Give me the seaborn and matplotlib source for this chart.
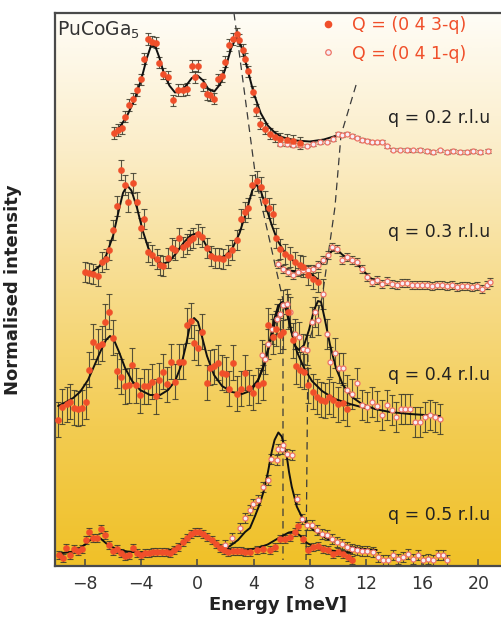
import numpy as np
import pandas as pd
import matplotlib
matplotlib.use("Agg")
import matplotlib.pyplot as plt
import seaborn as sns
from matplotlib.colors import LinearSegmentedColormap
from matplotlib.lines import Line2D

# ---------------- measured spectra (energy in meV, stacked normalised intensity) ----------------
# q = 0.2 r.l.u
q02_red_E = [-5.94, -5.63, -5.39, -5.15, -4.85, -4.60, -4.32, -4.04, -3.80, -3.49,
             -3.25, -2.95, -2.71, -2.43, -2.07, -1.76, -1.36, -1.05, -0.72, -0.41,
             -0.17, 0.06, 0.38, 0.66, 0.90, 1.18, 1.49, 1.73, 1.96, 2.27,
             2.51, 2.80, 2.98, 3.22, 3.39, 3.62, 3.94, 4.17, 4.46, 4.81,
             5.17, 5.52, 5.88, 6.36, 6.80, 7.30]
q02_red_I = [8.65, 8.71, 8.76, 8.98, 9.21, 9.34, 9.51, 9.72, 10.14, 10.54,
             10.48, 10.46, 10.06, 9.84, 9.78, 9.30, 9.51, 9.52, 9.54, 9.99,
             9.78, 9.99, 9.61, 9.43, 9.41, 9.34, 9.72, 9.79, 10.08, 10.41,
             10.54, 10.64, 10.52, 10.31, 10.14, 9.88, 9.48, 9.12, 8.84, 8.74,
             8.64, 8.58, 8.54, 8.52, 8.49, 8.45]
q02_red_err = 0.12
q02_open_E = [5.88, 6.36, 6.83, 7.30, 7.78, 8.25, 8.73, 9.20, 9.67, 10.03,
              10.27, 10.63, 10.98, 11.34, 11.69, 12.05, 12.41, 12.76, 13.12, 13.47,
              13.94, 14.42, 14.90, 15.37, 15.84, 16.32, 16.79, 17.27, 17.74, 18.22,
              18.69, 19.17, 19.64, 20.11, 20.70]
q02_open_I = [8.44, 8.43, 8.42, 8.41, 8.40, 8.43, 8.46, 8.48, 8.54, 8.64,
              8.61, 8.64, 8.59, 8.56, 8.52, 8.50, 8.46, 8.46, 8.48, 8.38,
              8.32, 8.32, 8.31, 8.30, 8.31, 8.29, 8.28, 8.30, 8.27, 8.29,
              8.28, 8.27, 8.29, 8.28, 8.29]
q02_open_err = 0.04

# q = 0.3 r.l.u
q03_red_E = [-8.00, -7.72, -7.41, -7.10, -6.81, -6.53, -6.27, -5.99, -5.74, -5.46,
             -5.15, -4.92, -4.61, -4.32, -4.04, -3.78, -3.49, -3.21, -2.90, -2.66,
             -2.43, -2.11, -1.83, -1.59, -1.29, -1.00, -0.76, -0.53, -0.29, 0.02,
             0.31, 0.66, 0.97, 1.25, 1.54, 1.84, 2.16, 2.48, 2.84, 3.08,
             3.39, 3.62, 3.86, 4.22, 4.53, 4.81, 5.10, 5.36, 5.59, 5.88,
             6.23, 6.59, 6.95, 7.30, 7.54, 7.89, 8.25, 8.60]
q03_red_I = [5.88, 5.86, 5.84, 5.79, 6.08, 6.14, 6.32, 6.72, 7.20, 7.91,
             7.61, 7.28, 7.66, 7.28, 6.76, 6.93, 6.28, 6.21, 6.14, 6.01,
             5.99, 6.16, 6.36, 6.32, 6.56, 6.38, 6.44, 6.51, 6.56, 6.64,
             6.58, 6.36, 6.19, 6.16, 6.16, 6.14, 6.21, 6.32, 6.51, 6.94,
             7.08, 7.16, 7.62, 7.70, 7.58, 7.29, 7.16, 7.04, 6.56, 6.34,
             6.24, 6.18, 6.08, 6.01, 5.98, 5.81, 5.74, 5.68]
q03_red_err = 0.2
q03_open_E = [5.76, 6.11, 6.47, 6.83, 7.18, 7.54, 7.89, 8.25, 8.60, 8.96,
              9.32, 9.56, 9.91, 10.27, 10.63, 10.98, 11.34, 11.69, 12.05, 12.41,
              12.76, 13.12, 13.47, 13.83, 14.19, 14.54, 14.90, 15.25, 15.61, 15.96,
              16.32, 16.68, 17.03, 17.39, 17.74, 18.10, 18.46, 18.81, 19.17, 19.52,
              19.88, 20.24, 20.59, 20.83]
q03_open_I = [6.04, 5.94, 5.88, 5.81, 5.88, 5.91, 5.92, 5.94, 6.01, 6.11,
              6.21, 6.38, 6.34, 6.11, 6.18, 6.12, 6.08, 5.94, 5.78, 5.68,
              5.72, 5.64, 5.70, 5.64, 5.61, 5.66, 5.66, 5.61, 5.61, 5.62,
              5.61, 5.60, 5.62, 5.61, 5.60, 5.61, 5.58, 5.60, 5.60, 5.58,
              5.59, 5.54, 5.61, 5.68]
q03_open_err = 0.08

# q = 0.4 r.l.u
q04_red_E = [-9.90, -9.62, -9.30, -9.07, -8.76, -8.48, -8.23, -7.95, -7.69, -7.41,
             -7.10, -6.81, -6.58, -6.29, -6.03, -5.74, -5.44, -5.15, -4.87, -4.63,
             -4.37, -4.06, -3.78, -3.49, -3.25, -2.97, -2.71, -2.43, -2.14, -1.88,
             -1.59, -1.31, -1.02, -0.76, -0.48, -0.22, 0.06, 0.35, 0.66, 0.90,
             1.20, 1.49, 1.73, 2.01, 2.25, 2.56, 2.84, 3.10, 3.39, 3.67,
             3.98, 4.33, 4.69, 5.05, 5.36, 5.59, 5.88, 6.11, 6.47, 6.78,
             7.02, 7.30, 7.59, 7.89, 8.21, 8.49, 8.78, 9.08, 9.39, 9.67,
             10.03, 10.34, 10.63]
q04_red_I = [2.92, 3.18, 3.23, 3.28, 3.16, 3.14, 3.16, 3.28, 3.92, 4.48,
             4.39, 4.44, 4.88, 5.08, 4.56, 3.90, 3.78, 3.59, 3.61, 4.01,
             3.61, 3.41, 3.59, 3.59, 3.68, 3.39, 3.71, 3.88, 3.63, 4.08,
             3.68, 4.08, 4.08, 4.81, 4.90, 4.46, 4.36, 4.68, 3.66, 3.96,
             3.99, 4.06, 3.86, 3.83, 3.54, 4.06, 3.44, 3.54, 3.86, 3.56,
             3.46, 3.61, 3.66, 4.81, 4.58, 4.74, 4.61, 4.68, 5.08, 4.51,
             3.99, 3.92, 3.88, 3.61, 3.48, 3.38, 3.32, 3.30, 3.38, 3.32,
             3.23, 3.26, 3.14]
q04_red_err = 0.35
q04_open_E = [4.58, 4.81, 5.05, 5.29, 5.64, 5.88, 6.11, 6.36, 6.59, 6.95,
              7.25, 7.54, 7.82, 8.14, 8.37, 8.60, 8.96, 9.20, 9.44, 9.79,
              10.10, 10.34, 10.63, 10.98, 11.38, 11.69, 12.05, 12.41, 12.76, 13.12,
              13.47, 13.83, 14.14, 14.47, 14.78, 15.13, 15.49, 15.84, 16.20, 16.56,
              16.91, 17.27]
q04_open_I = [4.21, 4.14, 4.44, 4.74, 4.94, 5.04, 5.21, 5.24, 5.08, 4.64,
              4.58, 4.34, 4.31, 4.88, 5.08, 4.91, 5.44, 4.64, 4.08, 4.26,
              3.96, 3.96, 3.51, 3.44, 3.66, 3.21, 3.18, 3.28, 3.19, 3.01,
              3.21, 3.11, 2.98, 3.14, 3.14, 3.14, 2.88, 2.88, 2.98, 3.01,
              2.98, 2.94]
q04_open_err = 0.3

# q = 0.5 r.l.u
q05_red_E = [-9.83, -9.59, -9.35, -9.07, -8.78, -8.48, -8.23, -7.93, -7.69, -7.41,
             -7.12, -6.86, -6.58, -6.27, -5.99, -5.70, -5.46, -5.15, -4.85, -4.61,
             -4.32, -4.04, -3.73, -3.42, -3.14, -2.85, -2.54, -2.23, -1.95, -1.67,
             -1.36, -1.05, -0.76, -0.48, -0.17, 0.14, 0.42, 0.70, 1.02, 1.32,
             1.61, 1.89, 2.20, 2.51, 2.80, 3.08, 3.39, 3.74, 4.22, 4.69,
             5.17, 5.52, 5.88, 6.23, 6.59, 6.95, 7.18, 7.54, 7.89, 8.25,
             8.60, 8.96, 9.32, 9.67, 10.03, 10.38, 10.74, 10.98]
q05_red_I = [0.21, 0.16, 0.36, 0.21, 0.34, 0.30, 0.34, 0.52, 0.68, 0.56,
             0.56, 0.74, 0.61, 0.41, 0.30, 0.34, 0.26, 0.19, 0.21, 0.36,
             0.26, 0.21, 0.26, 0.26, 0.28, 0.28, 0.28, 0.28, 0.26, 0.31,
             0.38, 0.48, 0.56, 0.63, 0.68, 0.68, 0.63, 0.58, 0.51, 0.43,
             0.36, 0.32, 0.28, 0.30, 0.30, 0.30, 0.28, 0.28, 0.31, 0.34,
             0.31, 0.38, 0.54, 0.54, 0.58, 0.68, 0.79, 0.54, 0.31, 0.38,
             0.39, 0.34, 0.31, 0.24, 0.28, 0.24, 0.18, 0.12]
q05_red_err = 0.08
q05_open_E = [1.96, 2.46, 3.03, 3.39, 3.74, 3.98, 4.33, 4.69, 5.05, 5.22,
              5.64, 5.76, 6.00, 6.11, 6.36, 6.71, 7.07, 7.42, 7.78, 8.14,
              8.49, 8.85, 9.20, 9.56, 9.91, 10.27, 10.63, 10.98, 11.34, 11.69,
              12.05, 12.52, 12.88, 13.23, 13.59, 13.94, 14.30, 14.65, 15.01, 15.37,
              15.72, 16.08, 16.43, 16.79, 17.15, 17.50, 17.79]
q05_open_I = [0.41, 0.55, 0.75, 0.95, 1.11, 1.24, 1.31, 1.58, 1.72, 2.14,
              2.11, 2.34, 2.34, 2.41, 2.24, 2.21, 1.34, 0.94, 0.81, 0.81,
              0.71, 0.64, 0.61, 0.54, 0.48, 0.44, 0.38, 0.34, 0.31, 0.30,
              0.30, 0.28, 0.18, 0.11, 0.12, 0.21, 0.14, 0.18, 0.24, 0.14,
              0.21, 0.11, 0.14, 0.11, 0.21, 0.21, 0.11]
q05_open_err = 0.1

# ---------------- fitted line shapes ----------------
fit02_E = [-5.9, -5.5, -5.0, -4.5, -4.0, -3.6, -3.3, -3.0, -2.7, -2.4,
           -2.0, -1.6, -1.2, -0.8, -0.4, 0.0, 0.4, 0.8, 1.2, 1.6,
           2.0, 2.4, 2.75, 3.1, 3.5, 4.0, 4.5, 5.0, 5.5, 6.0,
           7.0, 8.0, 9.0, 9.7, 10.2, 10.6, 11.2, 12.0, 13.3]
fit02_I = [8.62, 8.78, 9.0, 9.3, 9.72, 10.15, 10.4, 10.38, 10.15, 9.85,
           9.6, 9.46, 9.48, 9.6, 9.75, 9.8, 9.7, 9.52, 9.48, 9.62,
           9.95, 10.35, 10.55, 10.4, 10.0, 9.45, 9.05, 8.8, 8.66, 8.57,
           8.5, 8.48, 8.52, 8.58, 8.63, 8.62, 8.57, 8.5, 8.45]

fit03_red_E = [-8.0, -7.5, -7.0, -6.5, -6.0, -5.6, -5.3, -5.0, -4.7, -4.3,
               -3.9, -3.5, -3.0, -2.5, -2.0, -1.5, -1.0, -0.5, 0.0, 0.4,
               0.8, 1.2, 1.6, 2.0, 2.5, 3.0, 3.5, 3.9, 4.2, 4.5,
               4.9, 5.3, 5.7, 6.2, 6.8, 7.5, 8.0, 8.6]
fit03_red_I = [5.82, 5.87, 5.98, 6.2, 6.6, 7.1, 7.45, 7.6, 7.5, 7.15,
               6.7, 6.35, 6.12, 6.03, 6.08, 6.25, 6.45, 6.6, 6.65, 6.52,
               6.3, 6.17, 6.15, 6.2, 6.35, 6.65, 7.1, 7.5, 7.62, 7.5,
               7.15, 6.8, 6.5, 6.27, 6.1, 5.95, 5.85, 5.72]
fit03_open_E = [5.8, 6.5, 7.2, 8.0, 8.6, 9.1, 9.6, 9.9, 10.3, 10.8, 11.3, 11.8, 12.3, 13.0]
fit03_open_I = [6.0, 5.9, 5.88, 5.92, 6.0, 6.12, 6.3, 6.33, 6.22, 6.12, 6.05, 5.9, 5.75, 5.65]

fit04_red_E = [-9.92, -9.35, -8.85, -8.36, -7.79, -7.29, -6.86, -6.51, -6.22, -5.94,
               -5.58, -5.15, -4.65, -4.08, -3.37, -2.66, -2.09, -1.59, -1.17, -0.81,
               -0.53, -0.24, 0.04, 0.33, 0.68, 1.18, 1.75, 2.46, 3.17, 3.74,
               4.24, 4.67, 5.10, 5.45, 5.74, 6.02, 6.31, 6.66, 7.09, 7.59,
               8.15, 8.87, 9.79, 10.86, 11.92]
fit04_red_I = [3.19, 3.27, 3.35, 3.47, 3.71, 4.03, 4.31, 4.51, 4.59, 4.51,
               4.27, 3.95, 3.69, 3.51, 3.41, 3.41, 3.51, 3.69, 3.99, 4.41,
               4.81, 4.95, 4.87, 4.57, 4.19, 3.81, 3.59, 3.47, 3.43, 3.49,
               3.65, 3.95, 4.41, 4.91, 5.19, 5.27, 5.11, 4.71, 4.27, 3.95,
               3.69, 3.49, 3.33, 3.23, 3.15]
fit04_open_E = [3.74, 4.31, 4.81, 5.17, 5.52, 5.81, 6.09, 6.38, 6.66, 6.95,
                7.23, 7.59, 7.94, 8.30, 8.58, 8.80, 9.08, 9.44, 9.86, 10.36,
                11.00, 11.71, 12.63, 13.70, 15.13, 17.27]
fit04_open_I = [3.51, 3.71, 4.07, 4.45, 4.87, 5.19, 5.27, 5.15, 4.71, 4.39,
                4.31, 4.41, 4.71, 5.11, 5.29, 5.27, 4.91, 4.41, 3.95, 3.61,
                3.37, 3.23, 3.13, 3.07, 3.03, 2.99]

fit05_red_E = [-9.9, -9.0, -8.5, -8.0, -7.5, -7.2, -6.9, -6.4, -5.8, -5.0,
               -4.0, -3.0, -2.0, -1.4, -0.9, -0.4, 0.0, 0.4, 0.9, 1.4,
               2.0, 2.7, 3.5, 4.3, 5.0, 5.6, 6.1, 6.5, 6.9, 7.3,
               7.8, 8.5, 9.5, 10.5, 11.0]
fit05_red_I = [0.24, 0.27, 0.32, 0.42, 0.54, 0.57, 0.54, 0.42, 0.33, 0.28,
               0.26, 0.27, 0.30, 0.38, 0.50, 0.62, 0.66, 0.62, 0.52, 0.42,
               0.34, 0.30, 0.31, 0.35, 0.42, 0.52, 0.60, 0.66, 0.68, 0.60,
               0.45, 0.35, 0.30, 0.27, 0.26]
fit05_open_E = [1.75, 2.32, 2.89, 3.39, 3.74, 4.10, 4.46, 4.74, 5.02, 5.29,
                5.49, 5.76, 6.00, 6.16, 6.36, 6.52, 6.71, 7.07, 7.54, 8.25,
                9.20, 10.38, 11.57, 12.76]
fit05_open_I = [0.31, 0.39, 0.51, 0.67, 0.75, 0.99, 1.25, 1.51, 1.87, 2.28,
                2.51, 2.66, 2.58, 2.41, 2.18, 1.87, 1.58, 1.18, 0.91, 0.71,
                0.54, 0.41, 0.34, 0.31]

# dispersion guides through the peak positions
guide_a_E = [2.60, 4.17, 6.09, 6.09]
guide_a_I = [11.05, 7.71, 5.31, 0.11]
guide_b_E = [11.29, 10.22, 9.79, 8.87, 7.87, 7.73]
guide_b_I = [9.61, 8.61, 7.17, 5.35, 4.41, 0.11]

q_labels = ["q = 0.2 r.l.u", "q = 0.3 r.l.u", "q = 0.4 r.l.u", "q = 0.5 r.l.u"]
q_label_I = [8.95, 6.67, 3.81, 1.01]
legend_labels = ["Q = (0 4 3-q)", "Q = (0 4 1-q)"]
x_ticks = [-8, -4, 0, 4, 8, 12, 16, 20]

# ---------------- figure ----------------
sns.set_theme(style="white")
plt.rcParams["font.family"] = ["DejaVu Sans"]

RED = "#f04f2a"
OPEN_EDGE = "#ee7466"
OPEN_FACE = "#f6eef6"
ERR = "#3b3a2c"
XMIN, XMAX, YMAX = -10.14, 21.68, 11.05

fig = plt.figure(figsize=(5.02, 6.19), dpi=100)
ax = fig.add_axes([55 / 502, 53.5 / 619, 447 / 502, 552.5 / 619])

# warm vertical background wash
wash = LinearSegmentedColormap.from_list(
    "wash", ["#f0c128", "#f3cc52", "#f7dc8c", "#fbedc8", "#fffdf7"])
ax.imshow(np.linspace(0, 1, 256)[::-1].reshape(-1, 1), cmap=wash, aspect="auto",
          extent=[XMIN, XMAX, 0, YMAX], zorder=0, interpolation="bicubic")

for gx, gy in [(guide_a_E, guide_a_I), (guide_b_E, guide_b_I)]:
    ax.plot(gx, gy, color="#3a3a3a", lw=0.9, dashes=(6, 4), zorder=1)

red_sets = [(q02_red_E, q02_red_I, q02_red_err), (q03_red_E, q03_red_I, q03_red_err),
            (q04_red_E, q04_red_I, q04_red_err), (q05_red_E, q05_red_I, q05_red_err)]
open_sets = [(q02_open_E, q02_open_I, q02_open_err), (q03_open_E, q03_open_I, q03_open_err),
             (q04_open_E, q04_open_I, q04_open_err), (q05_open_E, q05_open_I, q05_open_err)]
fits = [(fit02_E, fit02_I), (fit03_red_E, fit03_red_I), (fit03_open_E, fit03_open_I),
        (fit04_red_E, fit04_red_I), (fit04_open_E, fit04_open_I),
        (fit05_red_E, fit05_red_I), (fit05_open_E, fit05_open_I)]

for e, i, err in red_sets + open_sets:
    ax.errorbar(e, i, yerr=err, fmt="none", ecolor=ERR, elinewidth=0.8,
                capsize=2.2, capthick=0.8, alpha=0.85, zorder=2)

for fe, fi in fits:
    sns.lineplot(x=fe, y=fi, ax=ax, sort=False, estimator=None, color="#111111",
                 lw=1.4, zorder=3)

for e, i, _ in red_sets:
    sns.scatterplot(x=e, y=i, ax=ax, s=20, color=RED, edgecolor=RED, linewidth=0.3,
                    zorder=5)
for e, i, _ in open_sets:
    sns.scatterplot(x=e, y=i, ax=ax, s=13, facecolor=OPEN_FACE, edgecolor=OPEN_EDGE,
                    linewidth=0.9, zorder=4)

for lab, yy in zip(q_labels, q_label_I):
    ax.text(20.83, yy, lab, ha="right", va="center", fontsize=12.5, color="#222222",
            zorder=6)

ax.text(0.004, 0.988, "PuCoGa$_5$", transform=ax.transAxes, ha="left", va="top",
        fontsize=13.5, color="#333333", zorder=6)

handles = [Line2D([], [], ls="none", marker="o", ms=4.5, mfc=RED, mec=RED),
           Line2D([], [], ls="none", marker="o", ms=4, mfc=OPEN_FACE, mec=OPEN_EDGE, mew=0.9)]
leg = ax.legend(handles, legend_labels, loc="upper left", bbox_to_anchor=(0.595, 0.995),
                frameon=False, fontsize=12.5, labelcolor=RED, handlelength=0.8,
                handletextpad=1.0, labelspacing=0.62, borderpad=0, borderaxespad=0)
leg.set_zorder(7)

ax.set_xlim(XMIN, XMAX)
ax.set_ylim(0, YMAX)
ax.set_xticks(x_ticks)
ax.set_xticklabels([f"{t}".replace("-", "\u2212") for t in x_ticks])
ax.set_yticks([])
ax.tick_params(axis="x", direction="in", length=5, width=1.1, color="#444444",
               labelsize=12.5, labelcolor="#333333", pad=7, bottom=True)

for side in ["left", "top", "bottom"]:
    ax.spines[side].set_visible(True)
    ax.spines[side].set_color("#4a4a4a")
    ax.spines[side].set_linewidth(1.6)
ax.spines["right"].set_visible(False)

ax.set_xlabel("Energy [meV]", fontsize=13, fontweight="bold", color="#222222", labelpad=2)
ax.set_ylabel("Normalised intensity", fontsize=13, fontweight="bold", color="#222222")
ax.yaxis.set_label_coords(-33 / 447, 0.5)

fig.savefig("out.png", dpi=100, facecolor="white")
